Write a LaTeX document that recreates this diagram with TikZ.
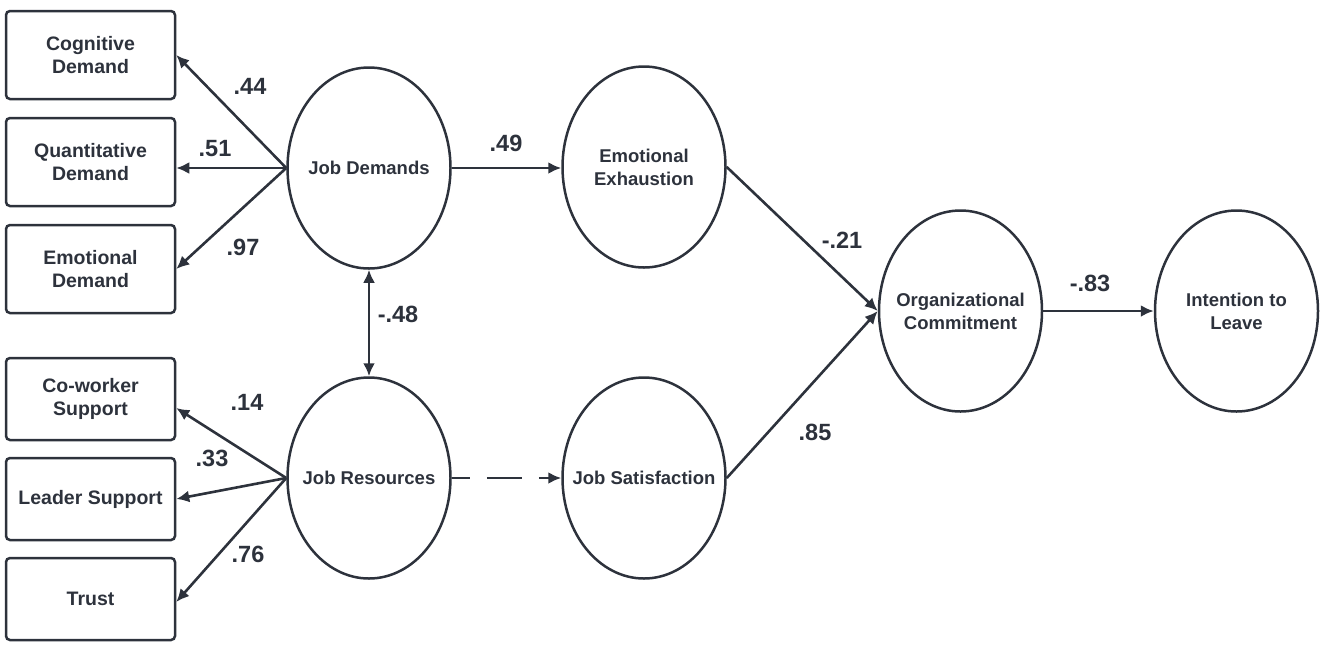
\documentclass[tikz,border=0pt]{standalone}
\usepackage{fontspec}
\setmainfont{Liberation Sans}
\usetikzlibrary{arrows.meta,shapes.geometric}
\definecolor{ink}{RGB}{45,50,60}
\tikzset{
  box/.style={draw=ink, line width=2.5pt, rounded corners=4pt, minimum width=169pt, minimum height=#1, inner sep=0pt, align=center, text=ink, font=\fontsize{19.5}{23.5}\selectfont\bfseries},
  lat/.style={draw=ink, line width=2.5pt, ellipse, minimum width=163pt, minimum height=201pt, inner sep=0pt,
    label={[align=center, text=ink, font=\fontsize{18.5}{23}\selectfont\bfseries]center:#1}},
  conn/.style={draw=ink, line width=2.6pt, -{Latex[length=13pt,width=12pt]}},
  coef/.style={text=ink, font=\fontsize{23.5}{26}\selectfont\bfseries, inner sep=0pt}
}
\begin{document}
\begin{tikzpicture}[x=1pt,y=-1pt]
\useasboundingbox (0,0) rectangle (1325,649);
% indicator boxes
\node[box=88pt] (cog) at (90.5,55) {Cognitive\\Demand};
\node[box=88pt] (quant) at (90.5,162) {Quantitative\\Demand};
\node[box=88pt] (emo) at (90.5,269) {Emotional\\Demand};
\node[box=82pt] (cow) at (90.5,399) {Co-worker\\Support};
\node[box=82pt] (lead) at (90.5,499) {Leader Support};
\node[box=82pt] (trust) at (90.5,599) {Trust};
% latent variables
\node[lat={Job Demands}] (jd) at (369,168) {};
\node[lat={Job Resources}] (jr) at (369,478) {};
\node[lat={Emotional\\Exhaustion}] (ee) at (644,167) {};
\node[lat={Job Satisfaction}] (js) at (644,478) {};
\node[lat={Organizational\\Commitment}] (oc) at (960.5,311) {};
\node[lat={Intention to\\Leave}] (il) at (1236.5,311) {};
% loadings
\draw[conn] (jd.west) -- (cog.east);
\draw[conn] (jd.west) -- (jd.west -| quant.east);
\draw[conn] (jd.west) -- (emo.east);
\draw[conn] (jr.west) -- ([yshift=-9pt]cow.east);
\draw[conn] (jr.west) -- (lead.east);
\draw[conn] (jr.west) -- ([yshift=-3pt]trust.east);
% structural paths
\draw[conn] (jd.east) -- (jd.east -| ee.west);
\draw[conn, {Latex[length=13pt,width=12pt]}-{Latex[length=13pt,width=12pt]}] (jd.south) -- (jr.north);
\draw[conn, dash pattern=on 18pt off 17pt on 35pt off 17pt on 40pt off 10pt] (jr.east) -- (js.west);
\draw[conn] (ee.east) -- (oc.west);
\draw[conn] (js.east) -- (oc.west);
\draw[conn] (oc.east) -- (il.west);
% coefficients
\node[coef] (c44) at (250,86) {.44};
\node[coef] (c51) at (215,149) {.51};
\node[coef] (c97) at (243,247) {.97};
\node[coef] (c14) at (247,402) {.14};
\node[coef] (c33) at (212,458) {.33};
\node[coef] (c76) at (248,554) {.76};
\node[coef] (c49) at (506,143) {.49};
\node[coef] (c48) at (398,314) {-.48};
\node[coef] (c21) at (842,240) {-.21};
\node[coef] (c85) at (815,432) {.85};
\node[coef] (c83) at (1090,283) {-.83};
\end{tikzpicture}
\end{document}
